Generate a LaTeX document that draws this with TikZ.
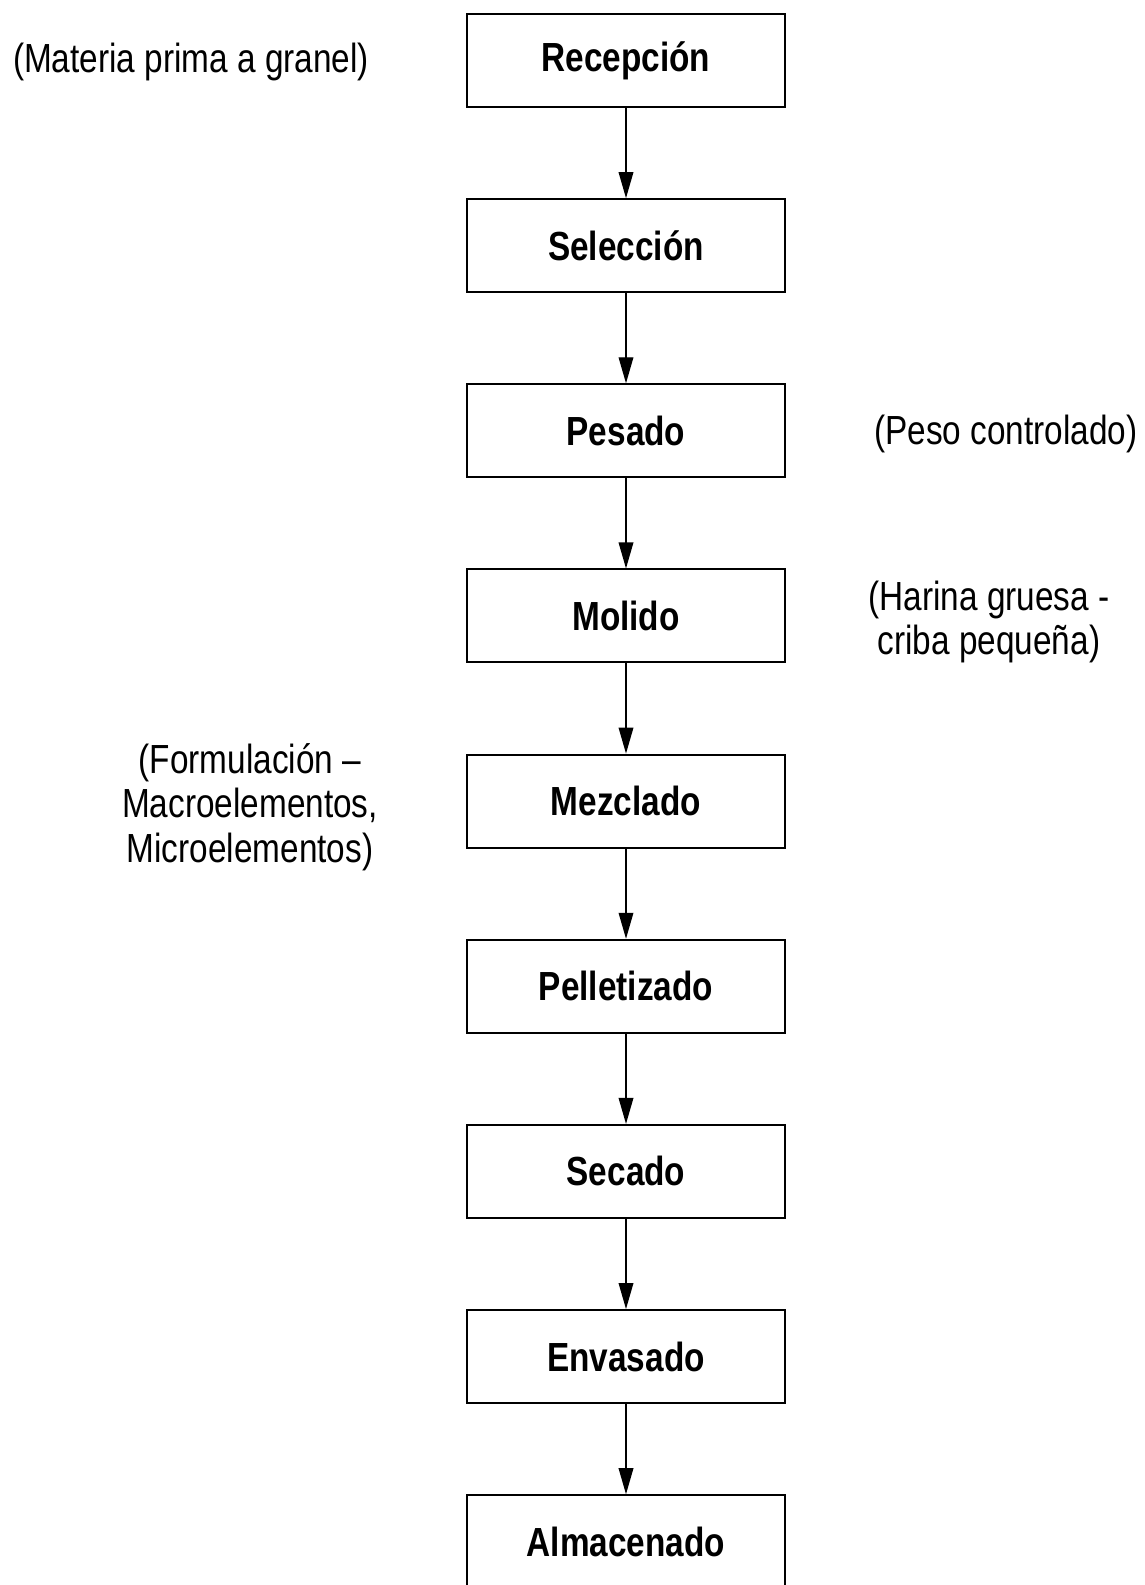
\documentclass[tikz,border=0pt]{standalone}
\usepackage{fontspec}
\setmainfont[FakeStretch=0.82]{Liberation Sans}
\usetikzlibrary{arrows.meta}
\begin{document}
\begin{tikzpicture}[x=0.75pt,y=-0.75pt,
  stepbox/.style={draw=black,line width=1.5pt,minimum width=238.5pt,minimum height=69.75pt,inner sep=0pt,font=\fontsize{30.5}{34}\selectfont\bfseries},
  note/.style={inner sep=0pt,align=center,font=\fontsize{30.5}{33.5}\selectfont},
  flow/.style={line width=1pt,-{Triangle[length=19.5pt,width=11pt]}}]
\useasboundingbox (0,0) rectangle (1145,1585);
\fill[white] (0,0) rectangle (1145,1585);
\node[stepbox] (b1) at (626,60.5) {Recepción};
\node[stepbox] (b2) at (626,245.65) {Selección};
\node[stepbox] (b3) at (626,430.8) {Pesado};
\node[stepbox] (b4) at (626,615.95) {Molido};
\node[stepbox] (b5) at (626,801.1) {Mezclado};
\node[stepbox] (b6) at (626,986.25) {Pelletizado};
\node[stepbox] (b7) at (626,1171.4) {Secado};
\node[stepbox] (b8) at (626,1356.55) {Envasado};
\node[stepbox] (b9) at (626,1541.7) {Almacenado};
\foreach \a/\b in {b1/b2,b2/b3,b3/b4,b4/b5,b5/b6,b6/b7,b7/b8,b8/b9}
  \draw[flow] (\a.south) -- (\b.north);
\node[note] (n1) at (191,62) {(Materia prima a granel)};
\node[note] (n2) at (1006,434) {(Peso controlado)};
\node[note] (n3) at (989,622) {(Harina gruesa -\\criba pequeña)};
\node[note] (n4) at (250,807) {(Formulación –\\Macroelementos,\\Microelementos)};
\end{tikzpicture}
\end{document}
